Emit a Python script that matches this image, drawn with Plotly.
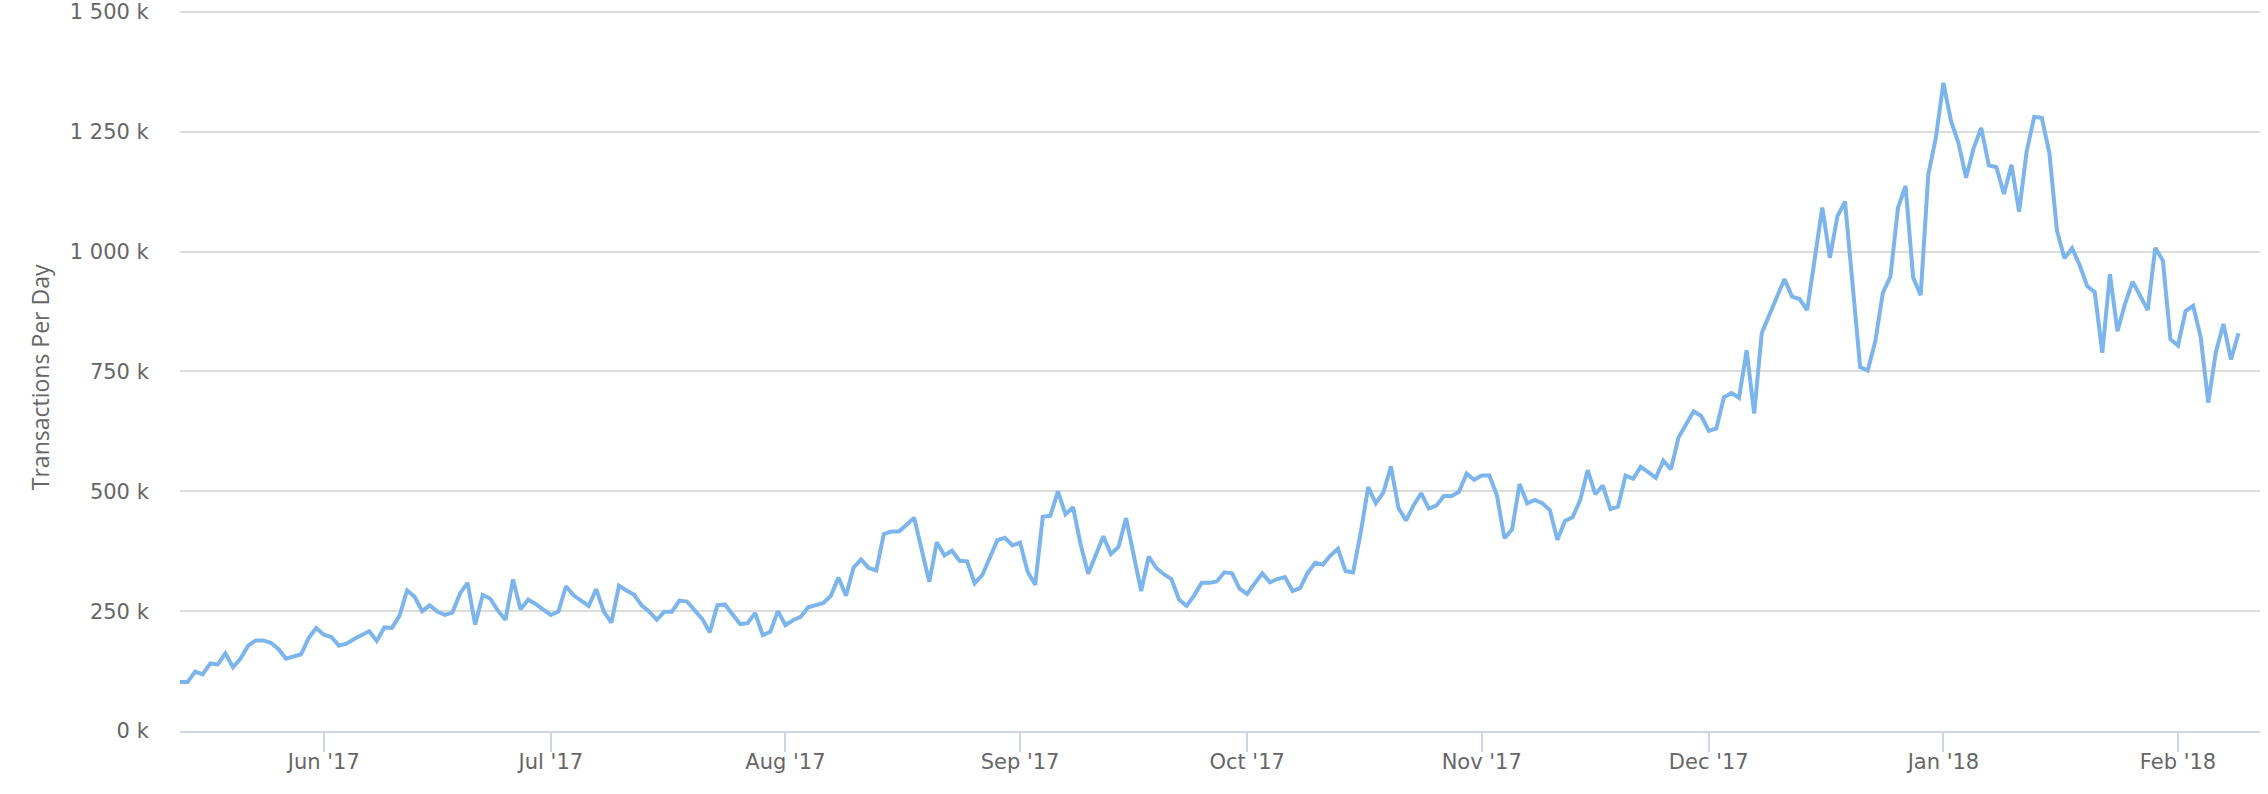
import pandas as pd
import plotly.graph_objects as go

# Daily transactions (thousands), one list per month
start_date = "2017-05-13"
may_2017 = [102, 102, 124, 118, 141, 139, 162, 133, 151, 178, 189, 189, 184, 171, 151, 156, 160, 194, 215]
jun_2017 = [201, 196, 178, 182, 192, 201, 208, 188, 216, 215, 240, 293, 280, 250, 262, 249, 242, 247, 287, 309,
            222, 284, 276, 251, 232, 316, 254, 274, 265, 253]
jul_2017 = [242, 249, 302, 283, 273, 261, 296, 249, 226, 303, 293, 284, 262, 249, 232, 249, 249, 272, 270, 252,
            234, 206, 262, 264, 244, 223, 225, 246, 200, 207, 250]
aug_2017 = [221, 231, 238, 258, 263, 267, 282, 320, 282, 341, 358, 340, 335, 411, 416, 416, 430, 445, 378, 311,
            394, 366, 376, 355, 354, 308, 325, 362, 398, 403, 387]
sep_2017 = [393, 332, 305, 447, 449, 500, 452, 467, 389, 328, 367, 406, 369, 384, 444, 371, 292, 364, 340, 327,
            317, 274, 261, 283, 309, 309, 312, 331, 329, 297]
oct_2017 = [286, 308, 329, 310, 317, 321, 292, 298, 330, 351, 347, 366, 380, 334, 331, 413, 509, 475, 497, 552,
            465, 439, 471, 496, 464, 470, 490, 490, 499, 537, 524]
nov_2017 = [533, 533, 492, 402, 420, 515, 475, 482, 475, 461, 399, 438, 446, 481, 544, 494, 512, 463, 468, 533,
            526, 551, 540, 528, 564, 546, 612, 641, 667, 657]
dec_2017 = [626, 631, 696, 705, 695, 794, 662, 830, 867, 905, 943, 906, 901, 878, 990, 1092, 987, 1074, 1104, 921,
            759, 752, 813, 914, 948, 1091, 1137, 946, 909, 1160, 1237]
jan_2018 = [1352, 1273, 1226, 1154, 1216, 1258, 1180, 1176, 1120, 1181, 1083, 1209, 1281, 1279, 1206, 1044, 986,
            1007, 972, 928, 915, 789, 953, 834, 891, 937, 908, 878, 1008, 981, 817]
feb_2018 = [804, 876, 887, 821, 685, 790, 849, 775, 830]

month_ticks = ["2017-06-01", "2017-07-01", "2017-08-01", "2017-09-01", "2017-10-01",
               "2017-11-01", "2017-12-01", "2018-01-01", "2018-02-01"]
month_labels = ["Jun '17", "Jul '17", "Aug '17", "Sep '17", "Oct '17",
                "Nov '17", "Dec '17", "Jan '18", "Feb '18"]
y_ticks = [0, 250, 500, 750, 1000, 1250, 1500]
y_labels = ["0 k", "250 k", "500 k", "750 k", "1 000 k", "1 250 k", "1 500 k"]

values = may_2017 + jun_2017 + jul_2017 + aug_2017 + sep_2017 + oct_2017 + nov_2017 + dec_2017 + jan_2018 + feb_2018
dates = pd.date_range(start_date, periods=len(values), freq="D")

fig = go.Figure(go.Scatter(
    x=dates, y=values, mode="lines",
    line=dict(color="#7cb5ec", width=4),
    hoverinfo="skip",
))

label_font = dict(family="DejaVu Sans, Verdana, sans-serif", size=21, color="#666666")

fig.update_layout(
    width=2268, height=794,
    margin=dict(l=180, r=8, t=9, b=63),
    paper_bgcolor="white", plot_bgcolor="white",
    showlegend=False,
    xaxis=dict(
        type="date", automargin=False,
        range=["2017-05-13", "2018-02-11 20:00"],
        tickvals=month_ticks, ticktext=month_labels,
        ticks="outside", ticklen=19, tickwidth=2, tickcolor="#ccd6eb",
        ticklabelstandoff=-8,
        showline=True, linecolor="#ccd6eb", linewidth=2,
        showgrid=False, zeroline=False,
        tickfont=label_font,
    ),
    yaxis=dict(
        automargin=False,
        range=[0, 1506],
        tickvals=y_ticks, ticktext=y_labels,
        ticks="outside", ticklen=26, tickcolor="rgba(0,0,0,0)",
        ticklabeloverflow="allow",
        showgrid=True, gridcolor="#dcdcdc", gridwidth=2,
        zeroline=False, showline=False,
        tickfont=label_font,
    ),
    annotations=[dict(
        text="Transactions Per Day", textangle=-90,
        xref="paper", yref="paper", x=-140 / 2080, y=0.49,
        xanchor="center", yanchor="middle", showarrow=False,
        font=dict(family="Open Sans, sans-serif", size=23, color="#666666"),
    )],
)

fig.write_html("out.html", config={"displayModeBar": False},
               post_script="document.body.style.margin='0';")
